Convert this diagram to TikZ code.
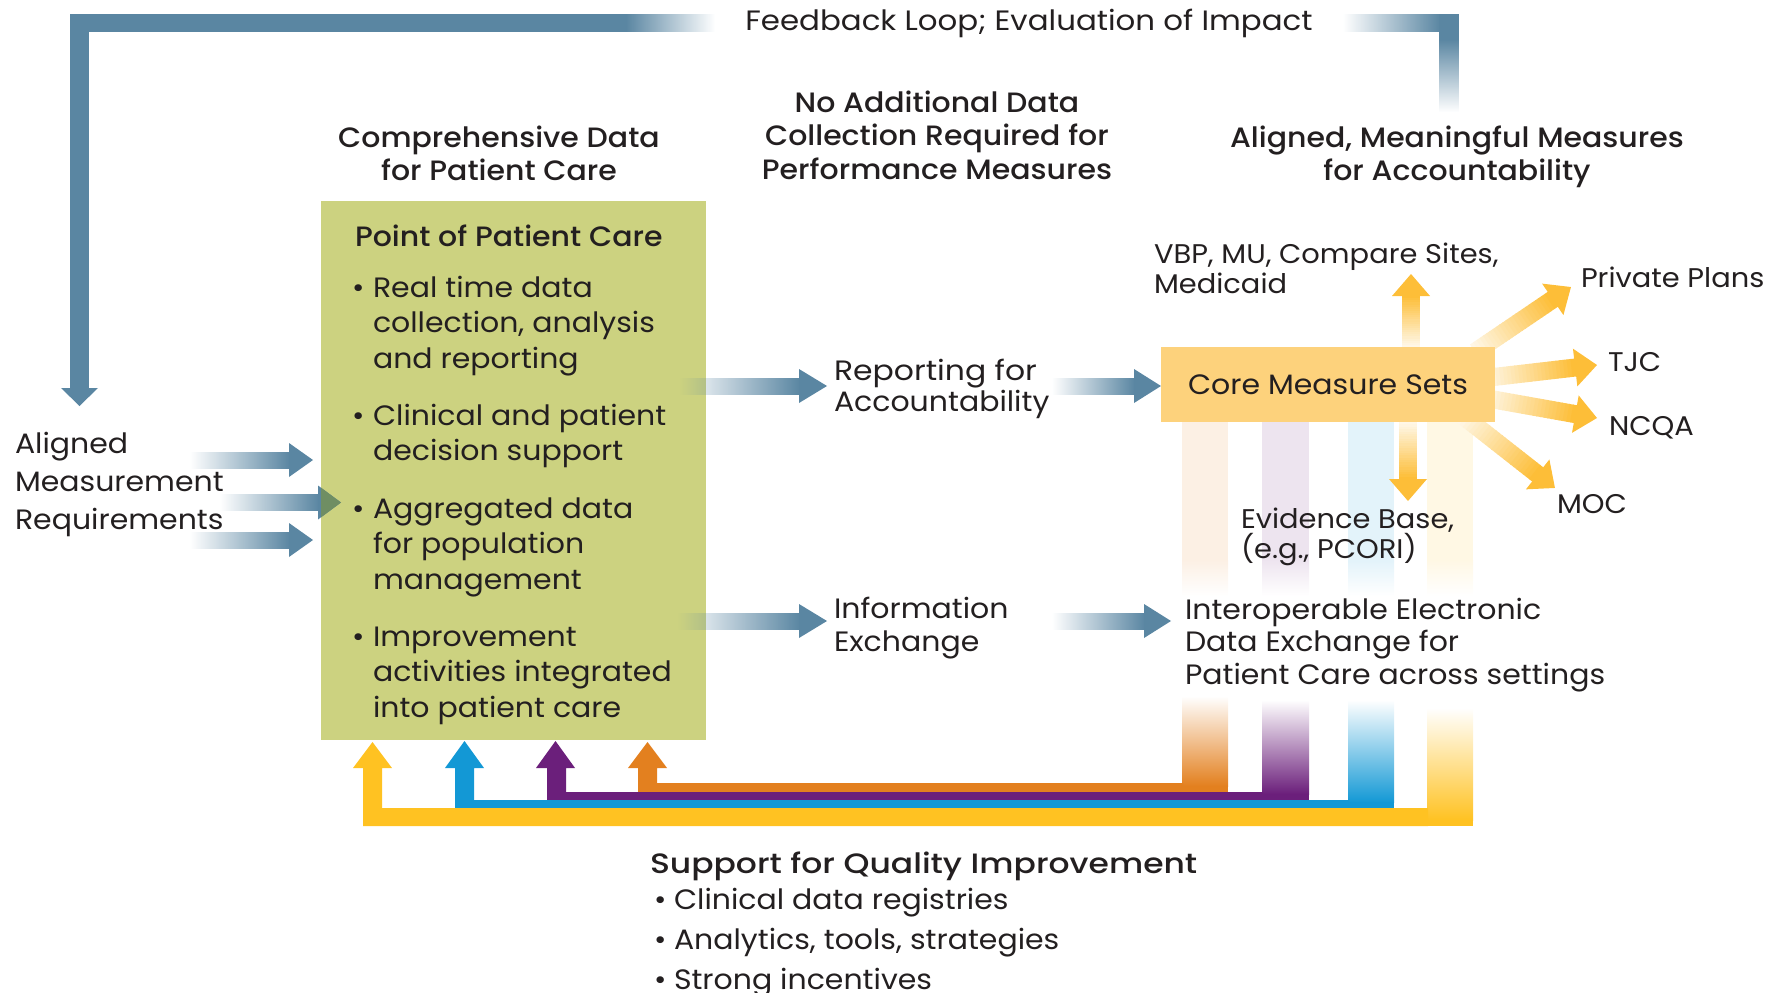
\documentclass[tikz,border=0pt]{standalone}
\usepackage{fontspec}
\setmainfont{Poppins}[BoldFont={Poppins Medium}, FakeStretch=1.07]
\usetikzlibrary{fadings}
\definecolor{steel}{HTML}{5A86A2}
\definecolor{boxgreen}{HTML}{CCD280}
\definecolor{coreyel}{HTML}{FDD27C}
\definecolor{arrowyel}{HTML}{FDBE38}
\definecolor{qyellow}{HTML}{FFC222}
\definecolor{qblue}{HTML}{1398D5}
\definecolor{qpurple}{HTML}{6B1F7B}
\definecolor{qorange}{HTML}{E3801F}
\definecolor{ink}{HTML}{231F20}
\definecolor{headgreen}{HTML}{6F8E63}
\tikzfading[name=tleft, left color=transparent!100, right color=transparent!0]
\tikzfading[name=tright, left color=transparent!0, right color=transparent!100]
\tikzfading[name=tbottom, bottom color=transparent!100, top color=transparent!0]
\newcommand\gradarrow[4]{%
  \pgfmathsetmacro\gdx{#3-(#1)}%
  \pgfmathsetmacro\gdy{#4-(#2)}%
  \pgfmathsetmacro\glen{veclen(\gdx,\gdy)}%
  \pgfmathsetmacro\gang{atan2(-\gdy,\gdx)}%
  \pgfmathsetmacro\gsh{\glen-22}%
  \begin{scope}[shift={(#1,#2)}, rotate=\gang]
    \foreach \i in {0,...,23}{%
      \pgfmathsetmacro\ga{\gsh*\i/24}%
      \pgfmathsetmacro\gb{\gsh*(\i+1)/24+0.8}%
      \pgfmathtruncatemacro\gp{12+88*\i/23}%
      \fill[arrowyel!\gp!white] (\ga,-9) rectangle (\gb,9);
    }
    \fill[arrowyel] (\gsh,-19) -- (\glen,0) -- (\gsh,19) -- cycle;
  \end{scope}}
\newcommand\qbar[5]{%
  \fill[#1!12!white] (#2,422) rectangle (#3,561);
  \shade[top color=#1!12!white, bottom color=white] (#2,560) rectangle (#3,596);
  \shade[top color=white, bottom color=#1] (#2,#5) rectangle (#3,#4-6);
  \fill[#1] (#2,#4-6.5) rectangle (#3,#4);}
\newcommand\harrow[4]{% x start, x head base, x tip, y centre
  \fill[steel, path fading=tleft] (#1,#4-8.5) rectangle (#2+0.5,#4+8.5);
  \fill[steel] (#2,#4-17) -- (#3,#4) -- (#2,#4+17) -- cycle;}
\begin{document}
\begin{tikzpicture}[x=1pt,y=-1pt,
  txt/.style={anchor=base west, inner sep=0pt, outer sep=0pt, align=left, text=ink, font=\fontsize{28}{35.5}\selectfont},
  small/.style={txt, font=\fontsize{27}{30}\selectfont},
  head/.style={anchor=base, inner sep=0pt, outer sep=0pt, align=center, text=ink, font=\fontsize{28}{33.5}\selectfont\bfseries},
  bold/.style={txt, font=\fontsize{28}{35.5}\selectfont\bfseries}]
\useasboundingbox (0,0) rectangle (1773,993);

% feedback loop
\fill[steel] (70,14) rectangle (627,32);
\fill[steel, path fading=tright] (626,14) rectangle (715,32);
\fill[steel] (70,14) rectangle (89,389);
\fill[steel] (61,388) -- (79.5,406) -- (98,388) -- cycle;
\fill[steel, path fading=tleft] (1343,14) rectangle (1440,32);
\fill[steel] (1439,14) rectangle (1459,40);
\fill[steel, path fading=tbottom] (1439,39.5) rectangle (1459,112);
\node[txt, anchor=base] (fb) at (1029,30) {\scalebox{1.03}[1]{Feedback Loop; Evaluation of Impact}};

% headings (anchor = baseline of last line)
\node[head] (h1) at (499,180.5) {Comprehensive Data\\for Patient Care};
\node[head] (h2) at (937,179) {No Additional Data\\Collection Required for\\Performance Measures};
\node[head] (h3) at (1457,180.5) {Aligned, Meaningful Measures\\for Accountability};

% point of patient care
\node[fill=boxgreen, anchor=north west, minimum width=385, minimum height=539, inner sep=0pt] (poc) at (321,201) {};
\node[bold] (poct) at (355,246) {Point of Patient Care};
\node[txt] (b1) at (352,297) {•};
\node[txt] (i1) at (373,368) {Real time data\\collection, analysis\\and reporting};
\node[txt] (b2) at (352,425) {•};
\node[txt] (i2) at (373,460.5) {Clinical and patient\\decision support};
\node[txt] (b3) at (352,518) {•};
\node[txt] (i3) at (373,589) {Aggregated data\\for population\\management};
\node[txt] (b4) at (352,646) {•};
\node[txt] (i4) at (373,717) {Improvement\\activities integrated\\into patient care};

% left input
\node[txt, font=\fontsize{28}{38}\selectfont] (amr) at (15,529) {Aligned\\Measurement\\Requirements};
\harrow{190}{289}{313}{460}
\harrow{220}{318}{341}{502.5}
\harrow{190}{289}{313}{540}
\begin{scope}
  \clip (321,480) rectangle (360,530);
  \fill[headgreen] (318,485.5) -- (341,502.5) -- (318,519.5) -- cycle;
\end{scope}

% middle arrows
\harrow{680}{799}{827}{386}
\harrow{1052}{1134}{1161}{386}
\harrow{678}{799}{827}{621}
\harrow{1052}{1144}{1171}{621}
\node[txt, font=\fontsize{28}{31}\selectfont] (rep) at (834,411) {\scalebox{1.05}[1]{Reporting for}\\Accountability};
\node[txt, font=\fontsize{28}{32.5}\selectfont] (inf) at (834,651) {Information\\Exchange};

% colour bars
\qbar{qorange}{1182}{1228}{792}{696}
\qbar{qpurple}{1262}{1309}{800}{700}
\qbar{qblue}{1348}{1394}{808.5}{700}
\qbar{qyellow}{1427}{1473}{826}{708}

% bottom connectors
\fill[qorange] (628,768) -- (647.5,742) -- (667,768) -- (657,768) -- (657,783) -- (1183,783) -- (1183,792) -- (638,792) -- (638,768) -- cycle;
\fill[qpurple] (536,768) -- (555.5,741) -- (575,768) -- (566,768) -- (566,792) -- (1263,792) -- (1263,800) -- (547,800) -- (547,768) -- cycle;
\fill[qblue] (445,768) -- (464.5,741) -- (484,768) -- (474,768) -- (474,800) -- (1349,800) -- (1349,808.5) -- (455,808.5) -- (455,768) -- cycle;
\fill[qyellow] (353,768) -- (372.5,742) -- (392,768) -- (382,768) -- (382,808) -- (1428,808) -- (1428,826) -- (363,826) -- (363,768) -- cycle;

% core measure arrows
\gradarrow{1411}{347}{1411}{274}
\gradarrow{1408}{422}{1408}{501}
\gradarrow{1475}{352}{1571}{287}
\gradarrow{1485}{378}{1597}{365}
\gradarrow{1485}{398}{1597}{418}
\gradarrow{1462}{415}{1555}{488}
\node[fill=coreyel, minimum width=334, minimum height=75, inner sep=0pt, text=ink, font=\fontsize{28}{35.5}\selectfont] (core) at (1328,384.5) {Core Measure Sets};

\node[txt, font=\fontsize{28}{32.5}\selectfont] (iop) at (1185,684) {Interoperable Electronic\\Data Exchange for\\Patient Care across settings};
\node[small] (vbp) at (1154,293) {VBP, MU, Compare Sites,\\Medicaid};
\node[small] (pp) at (1581,287) {Private Plans};
\node[small] (tjc) at (1608,371) {TJC};
\node[small] (ncqa) at (1609,435) {NCQA};
\node[small] (moc) at (1557,513) {MOC};
\node[small] (ev) at (1241,558) {Evidence Base,\\(e.g., PCORI)};

% support for QI
\node[bold] (sq) at (650,873) {\scalebox{1.1}[1]{Support for Quality Improvement}};
\node[txt] (sb1) at (654,909) {•};
\node[txt] (s1) at (674,909) {Clinical data registries};
\node[txt] (sb2) at (654,949) {•};
\node[txt] (s2) at (674,949) {Analytics, tools, strategies};
\node[txt] (sb3) at (654,989) {•};
\node[txt] (s3) at (674,989) {Strong incentives};
\end{tikzpicture}
\end{document}
